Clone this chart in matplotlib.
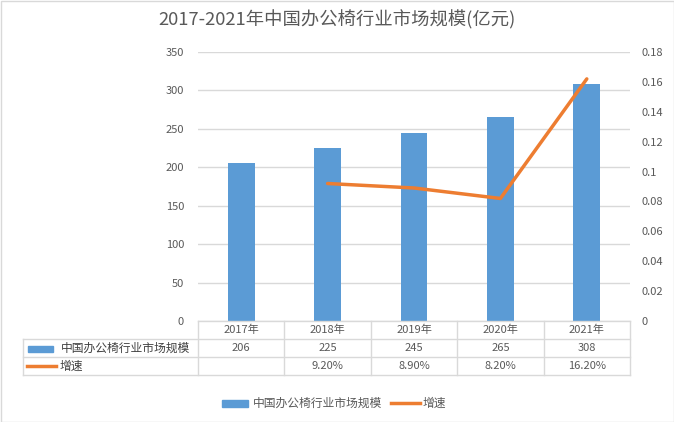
import matplotlib.pyplot as plt
from matplotlib.patches import Rectangle
from matplotlib.lines import Line2D

plt.rcParams['font.family'] = ['Noto Sans CJK SC', 'DejaVu Sans']

# data
years = ['2017年', '2018年', '2019年', '2020年', '2021年']
market_size = [206, 225, 245, 265, 308]
growth = [None, 0.092, 0.089, 0.082, 0.162]
growth_labels = ['', '9.20%', '8.90%', '8.20%', '16.20%']
bar_name = '中国办公椅行业市场规模'
line_name = '增速'
title = '2017-2021年中国办公椅行业市场规模(亿元)'

BLUE = '#5B9BD5'
ORANGE = '#ED7D31'
GRID = '#D9D9D9'
TXT = '#595959'

W, H = 674, 422
fig = plt.figure(figsize=(W / 100, H / 100), dpi=100)


def fx(px):
    return px / W


def fy(py):
    return 1 - py / H


# chart border
fig.patches.append(Rectangle((fx(0.5), fy(421.5)), fx(673), 421 / H,
                             transform=fig.transFigure, fill=False, edgecolor=GRID, lw=1))

left, right, top, bottom = 198, 630, 52, 321
ax = fig.add_axes([fx(left), fy(bottom), fx(right - left), (bottom - top) / H])
x = list(range(len(years)))
ax.bar(x, market_size, width=0.31, color=BLUE, zorder=2)
ax.set_xlim(-0.5, len(years) - 0.5)
ax.set_ylim(0, 350)
ax.set_yticks(range(0, 351, 50))
ax.yaxis.grid(True, color=GRID, lw=1, zorder=0)
ax.set_xticks([])
for s in ax.spines.values():
    s.set_visible(False)
ax.tick_params(axis='y', length=0, labelsize=8, labelcolor=TXT, pad=10)

ax2 = ax.twinx()
gx = [i for i, g in enumerate(growth) if g is not None]
gy = [g for g in growth if g is not None]
ax2.plot(gx, gy, color=ORANGE, lw=2.5, zorder=3, solid_capstyle='round')
ax2.set_ylim(0, 0.18)
ax2.set_yticks([i * 0.02 for i in range(10)])
ax2.set_yticklabels(['0'] + [f'{i * 0.02:g}' for i in range(1, 10)])
for s in ax2.spines.values():
    s.set_visible(False)
ax2.tick_params(axis='y', length=0, labelsize=8, labelcolor=TXT, pad=8)

fig.text(fx(337), fy(20), title, ha='center', va='center', fontsize=13.2, color=TXT)

# data table
col_w = (right - left) / len(years)
rows_y = [321, 339, 357, 375]
label_left = 23
line_kw = dict(transform=fig.transFigure, color=GRID, lw=1)
# horizontal lines
fig.add_artist(Line2D([fx(left), fx(right)], [fy(rows_y[0])] * 2, **line_kw))
for ry in rows_y[1:]:
    fig.add_artist(Line2D([fx(label_left), fx(right)], [fy(ry)] * 2, **line_kw))
# vertical lines
for i in range(len(years) + 1):
    xx = left + i * col_w
    fig.add_artist(Line2D([fx(xx)] * 2, [fy(rows_y[0]), fy(rows_y[3])], **line_kw))
fig.add_artist(Line2D([fx(label_left)] * 2, [fy(rows_y[1]), fy(rows_y[3])], **line_kw))

for i, yr in enumerate(years):
    cx = left + (i + 0.5) * col_w
    fig.text(fx(cx), fy(330), yr, ha='center', va='center', fontsize=8, color=TXT)
    fig.text(fx(cx), fy(348), str(market_size[i]), ha='center', va='center', fontsize=8, color=TXT)
    fig.text(fx(cx), fy(366), growth_labels[i], ha='center', va='center', fontsize=8, color=TXT)

fig.patches.append(Rectangle((fx(28), fy(352)), fx(25), 6 / H, transform=fig.transFigure,
                             color=BLUE))
fig.text(fx(61), fy(348), bar_name, ha='left', va='center', fontsize=8.5, color='#404040')
fig.add_artist(Line2D([fx(27), fx(56)], [fy(366)] * 2, transform=fig.transFigure,
                      color=ORANGE, lw=2.5))
fig.text(fx(60), fy(366), line_name, ha='left', va='center', fontsize=8.5, color='#404040')

# legend
fig.patches.append(Rectangle((fx(222), fy(407)), fx(26), 7 / H, transform=fig.transFigure,
                             color=BLUE))
fig.text(fx(253), fy(403), bar_name, ha='left', va='center', fontsize=8.5, color=TXT)
fig.add_artist(Line2D([fx(391), fx(420)], [fy(403)] * 2, transform=fig.transFigure,
                      color=ORANGE, lw=2.5))
fig.text(fx(423), fy(403), line_name, ha='left', va='center', fontsize=8.5, color=TXT)

fig.savefig('out.png', dpi=100)
